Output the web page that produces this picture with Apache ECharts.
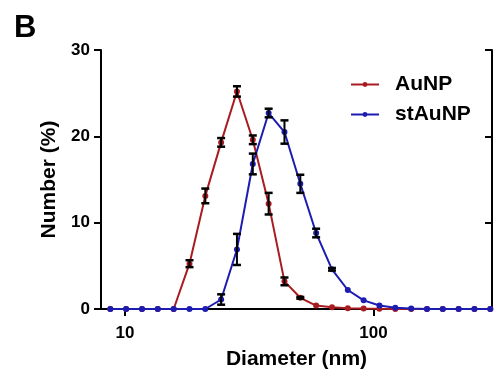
<!DOCTYPE html>
<html><head><meta charset="utf-8">
<script src="https://cdn.jsdelivr.net/npm/echarts@6/dist/echarts.min.js"></script>
<style>html,body{margin:0;padding:0;background:#fff}#c{width:495px;height:370px}</style>
</head><body><div id="c"></div>
<script>
// DLS size bins (nm)
const diameters = [8.721, 10.10, 11.70, 13.54, 15.69, 18.17, 21.04, 24.36, 28.21, 32.67, 37.84, 43.82, 50.75, 58.77, 68.06, 78.82, 91.28, 105.7, 122.4, 141.8, 164.2, 190.1, 220.2, 255.0, 295.3];
// Number (%) values
const auNP   = [0, 0, 0, 0, 0, 5.25, 13.1, 19.3, 25.2, 19.6, 12.2, 3.2, 1.3, 0.4, 0.2, 0.1, 0.05, 0.02, 0, 0, 0, 0, 0, 0, 0];
const stAuNP = [0, 0, 0, 0, 0, 0, 0, 1.1, 6.9, 16.8, 22.7, 20.5, 14.5, 8.8, 4.6, 2.2, 1.0, 0.4, 0.15, 0.05, 0, 0, 0, 0, 0];
// error (+/-)
const auNPErr   = [0, 0, 0, 0, 0, 0.4, 0.85, 0.5, 0.6, 0.5, 1.25, 0.45, 0.1, 0, 0, 0, 0, 0, 0, 0, 0, 0, 0, 0, 0];
const stAuNPErr = [0, 0, 0, 0, 0, 0, 0, 0.6, 1.8, 1.2, 0.5, 1.35, 1.05, 0.5, 0.15, 0, 0, 0, 0, 0, 0, 0, 0, 0, 0];
const seriesNames = ['AuNP', 'stAuNP'];
const xTickValues = [10, 100];
const yTickLabels = [0, 10, 20, 30];

const FONT = '"Liberation Sans", Arial, sans-serif';
const RED = '#a81c20', BLUE = '#1c1cb0';

function pairs(vals) { return diameters.map((d, i) => [d, vals[i]]); }
function errData(vals, errs) {
  const out = [];
  diameters.forEach((d, i) => { if (errs[i] > 0) out.push([d, vals[i] - errs[i], vals[i] + errs[i]]); });
  return out;
}
function renderErr(params, api) {
  const x = api.value(0), lo = api.value(1), hi = api.value(2);
  const a = api.coord([x, hi]), b = api.coord([x, lo]);
  const w = 4;
  const st = { stroke: '#000', lineWidth: 2 };
  return { type: 'group', children: [
    { type: 'line', shape: { x1: a[0], y1: a[1], x2: b[0], y2: b[1] }, style: st },
    { type: 'line', shape: { x1: a[0] - w, y1: a[1], x2: a[0] + w, y2: a[1] }, style: { stroke: '#000', lineWidth: 2.5 } },
    { type: 'line', shape: { x1: b[0] - w, y1: b[1], x2: b[0] + w, y2: b[1] }, style: { stroke: '#000', lineWidth: 2.5 } }
  ]};
}

const labelStyle = { fontSize: 17, fontWeight: 'bold', color: '#000', fontFamily: FONT };
const nameStyle = { fontSize: 21, fontWeight: 'bold', color: '#000', fontFamily: FONT };
const axLine = { show: true, lineStyle: { color: '#000', width: 2 } };

const chart = echarts.init(document.getElementById('c'), null, { renderer: 'canvas' });
chart.setOption({
  animation: false,
  backgroundColor: '#fff',
  grid: { left: 101, right: 3, top: 50, bottom: 61, containLabel: false, outerBoundsMode: 'none' },
  graphic: [{ type: 'text', left: 14, top: 13, style: { text: 'B', font: 'bold 31px ' + FONT, fill: '#000' } }],
  legend: {
    orient: 'vertical', left: 350, top: 74, padding: 0, itemWidth: 28, itemHeight: 6, itemGap: 9,
    data: seriesNames,
    textStyle: Object.assign({ padding: [0, 0, 0, 11] }, nameStyle)
  },
  xAxis: [{
    type: 'log', logBase: 10, min: 8, max: 300, position: 'bottom',
    axisLine: axLine,
    axisTick: { show: true, inside: false, length: 7, lineStyle: { color: '#000', width: 2 }, customValues: xTickValues },
    axisLabel: Object.assign({ margin: 16, customValues: xTickValues }, labelStyle),
    splitLine: { show: false }, minorTick: { show: false },
    name: 'Diameter (nm)', nameLocation: 'middle', nameGap: 40, nameTextStyle: nameStyle
  }, {
    type: 'log', logBase: 10, min: 8, max: 300, position: 'top',
    axisLine: axLine,
    axisTick: { show: true, inside: true, length: 7, lineStyle: { color: '#000', width: 2 }, customValues: xTickValues },
    axisLabel: { show: false }, splitLine: { show: false }
  }],
  yAxis: [{
    type: 'value', min: yTickLabels[0], max: yTickLabels[yTickLabels.length - 1], interval: 10, position: 'left',
    axisLine: axLine,
    axisTick: { show: true, inside: false, length: 7, lineStyle: { color: '#000', width: 2 } },
    axisLabel: Object.assign({ margin: 11 }, labelStyle),
    splitLine: { show: false },
    name: 'Number (%)', nameLocation: 'middle', nameGap: 35, nameTextStyle: nameStyle
  }, {
    type: 'value', min: 0, max: 30, interval: 10, position: 'right',
    axisLine: axLine,
    axisTick: { show: true, inside: true, length: 7, lineStyle: { color: '#000', width: 2 } },
    axisLabel: { show: false }, splitLine: { show: false }
  }],
  series: [{
    name: seriesNames[0], type: 'line', data: pairs(auNP), z: 2,
    symbol: 'circle', symbolSize: 6,
    lineStyle: { color: RED, width: 2 }, itemStyle: { color: RED }
  }, {
    name: seriesNames[1], type: 'line', data: pairs(stAuNP), z: 3,
    symbol: 'circle', symbolSize: 6,
    lineStyle: { color: BLUE, width: 2 }, itemStyle: { color: BLUE }
  }, {
    type: 'custom', name: 'errA', data: errData(auNP, auNPErr), renderItem: renderErr,
    encode: { x: 0, y: [1, 2] }, z: 4, silent: true
  }, {
    type: 'custom', name: 'errB', data: errData(stAuNP, stAuNPErr), renderItem: renderErr,
    encode: { x: 0, y: [1, 2] }, z: 4, silent: true
  }]
});
</script>
</body></html>
